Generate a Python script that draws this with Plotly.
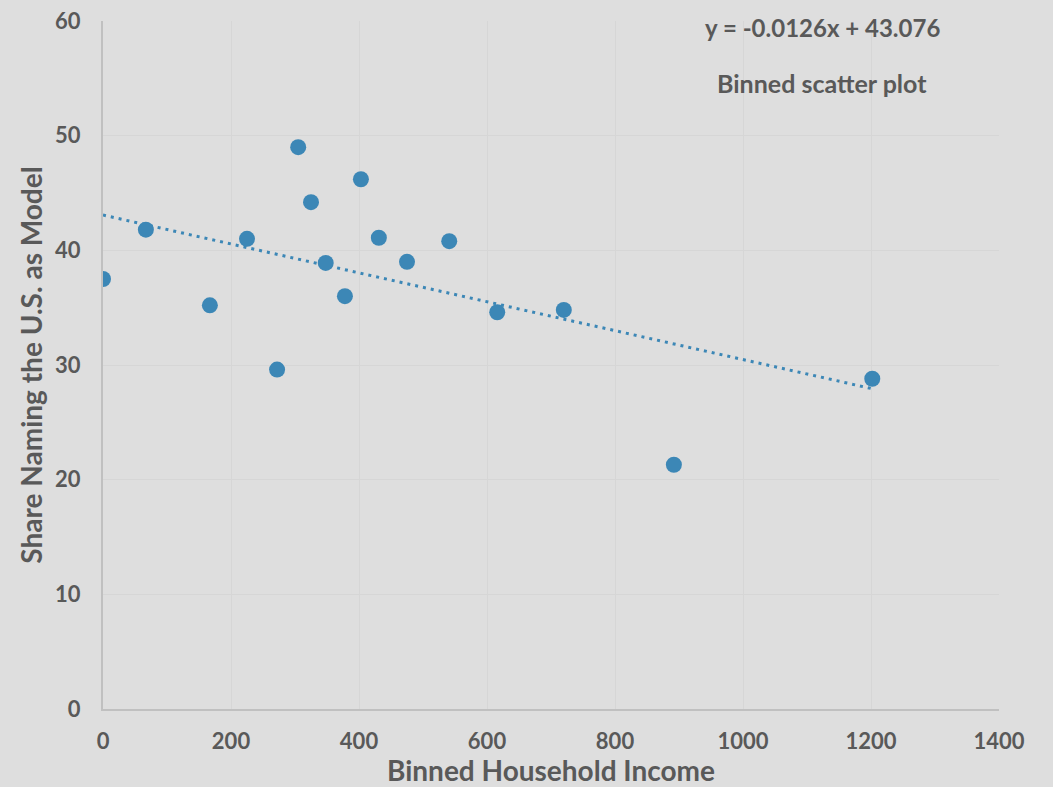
import plotly.graph_objects as go

income = [0, 67, 167, 225, 272, 305, 325, 348, 378, 403, 431, 475, 541, 616, 720, 892, 1202]
share = [37.5, 41.8, 35.2, 41.0, 29.6, 49.0, 44.2, 38.9, 36.0, 46.2, 41.1, 39.0, 40.8, 34.6, 34.8, 21.3, 28.8]

slope = -0.0126
intercept = 43.076
trend_x = [min(income), max(income)]
trend_y = [slope * v + intercept for v in trend_x]

x_ticks = [0, 200, 400, 600, 800, 1000, 1200, 1400]
y_ticks = [0, 10, 20, 30, 40, 50, 60]

blue = "#3c87b6"
txt = "#595959"
font_family = "Lato, 'Open Sans', sans-serif"

W, H = 1053, 787
ML, MR, MT, MB = 103, 54, 21, 78

fig = go.Figure()
fig.add_trace(go.Scatter(x=trend_x, y=trend_y, mode="lines",
                         line=dict(color=blue, width=3, dash="3px,5px"),
                         hoverinfo="skip", showlegend=False))
fig.add_trace(go.Scatter(x=income, y=share, mode="markers",
                         marker=dict(color=blue, size=16, line=dict(width=0)),
                         showlegend=False))

fig.update_layout(
    width=W, height=H,
    paper_bgcolor="#dedede", plot_bgcolor="#dedede",
    margin=dict(l=ML, r=MR, t=MT, b=MB),
    font=dict(family=font_family, color=txt, size=18),
    xaxis=dict(range=[0, 1400], tickvals=x_ticks, ticktext=[str(v) for v in x_ticks],
               showgrid=True, gridcolor="#d6d6d6", gridwidth=1,
               showline=True, linecolor="#c0c0c0", linewidth=2, zeroline=False,
               ticks="", ticklabelstandoff=12, automargin=False,
               tickfont=dict(family=font_family, size=22, color=txt, weight="bold"),
               title=dict(text="Binned Household Income",
                          font=dict(family=font_family, size=28, color=txt, weight="bold"))),
    yaxis=dict(range=[0, 60], tickvals=y_ticks, ticktext=[str(v) for v in y_ticks],
               showgrid=True, gridcolor="#d6d6d6", gridwidth=1,
               showline=True, linecolor="#c0c0c0", linewidth=2, zeroline=False,
               ticks="", ticklabelstandoff=16, automargin=False,
               tickfont=dict(family=font_family, size=22, color=txt, weight="bold"),
               title=dict(text="Share Naming the U.S. as Model", standoff=4,
                          font=dict(family=font_family, size=28, color=txt, weight="bold"))),
)

pw = W - ML - MR
ph = H - MT - MB
for text, px, py, sz in [("y = -0.0126x + 43.076", 822, 27, 24),
                         ("Binned scatter plot", 822, 83, 25)]:
    fig.add_annotation(text=text, x=(px - ML) / pw, y=1 - (py - MT) / ph,
                       xref="paper", yref="paper", xanchor="center", yanchor="middle",
                       showarrow=False,
                       font=dict(family=font_family, size=sz, color=txt, weight="bold"))

fig.write_html("out.html", config={"displayModeBar": False},
               post_script="document.body.style.margin='0';")
